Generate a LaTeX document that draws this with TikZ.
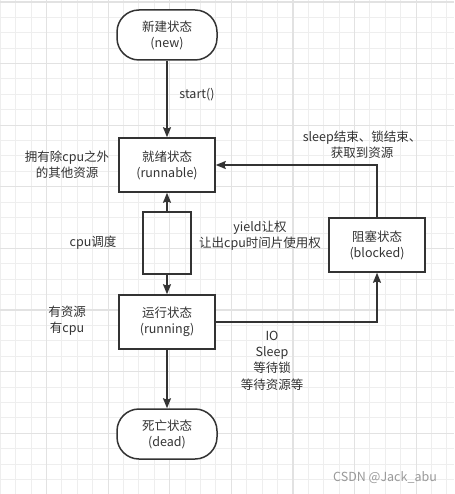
\documentclass[tikz,border=0pt]{standalone}
\usepackage{fontspec}
\setmainfont{Noto Sans CJK SC}
\usetikzlibrary{arrows.meta,positioning}

\definecolor{ink}{HTML}{333333}
\definecolor{gridminor}{HTML}{EEEEEE}
\definecolor{gridmajor}{HTML}{E2E2E2}

\tikzset{
  state/.style={draw=ink, line width=1.5pt, fill=white, minimum width=96pt,
    minimum height=54pt, align=center, text=ink, inner sep=0pt,
    font=\fontsize{12.5}{16}\selectfont},
  term/.style={state, rounded corners=22pt, minimum width=100pt, minimum height=50pt},
  lbl/.style={align=center, text=ink, inner sep=0pt, font=\fontsize{12.5}{16.3}\selectfont},
  flow/.style={draw=ink, line width=1.5pt, -{Stealth[length=10pt,width=8pt,inset=1.5pt]}},
}

\begin{document}
\begin{tikzpicture}[x=1pt,y=-1pt]
\useasboundingbox (0,0) rectangle (454,494);
\fill[white] (0,0) rectangle (454,494);

% background grid
\foreach \k in {-3,...,26} \draw[gridminor,line width=1pt] ({46.5+15.4*\k},0) -- ++(0,494);
\foreach \k in {0,...,32} \draw[gridminor,line width=1pt] (0,{2+15.4*\k}) -- ++(454,0);
\foreach \k in {0,...,6} \draw[gridmajor,line width=1.2pt] ({46.5+61.6*\k},0) -- ++(0,494);
\foreach \k in {0,...,8} \draw[gridmajor,line width=1.2pt] (0,{2+61.6*\k}) -- ++(454,0);

% states
\node[term] (new) at (167,35) {新建状态\\(new)};
\node[state] (runnable) at (167,165) {就绪状态\\(runnable)};
\node[draw=ink, line width=1.5pt, minimum width=48pt, minimum height=62pt] (sched) at (167,243) {};
\node[state] (running) at (167,322) {运行状态\\(running)};
\node[state] (blocked) at (377,245) {阻塞状态\\(blocked)};
\node[term] (dead) at (167,434) {死亡状态\\(dead)};

% transitions
\draw[flow] (new) -- (runnable);
\draw[flow] (sched) -- (runnable);
\draw[flow] (sched) -- (running);
\draw[flow] (running) -- (dead);
\draw[flow] (blocked.north) |- (runnable.east);
\draw[flow] (running.east) -| (blocked.south);

% labels
\node[lbl] (startlbl) at (197,95) {start()};
\node[lbl] (wakelbl) at (362,145) {sleep结束、锁结束、\\获取到资源};
\node[lbl] (readylbl) at (67,165) {拥有除cpu之外\\的其他资源};
\node[lbl] (schedlbl) at (93,243) {cpu调度};
\node[lbl] (yieldlbl) at (260,235.5) {yield让权\\让出cpu时间片使用权};
\node[lbl] (runlbl) at (67,321) {有资源\\有cpu};
\node[lbl] (waitlbl) at (272,360.5) {IO\\Sleep\\等待锁\\等待资源等};
\node[lbl, text=black!40] (mark) at (385,478) {CSDN @Jack\_abu};

\end{tikzpicture}
\end{document}
